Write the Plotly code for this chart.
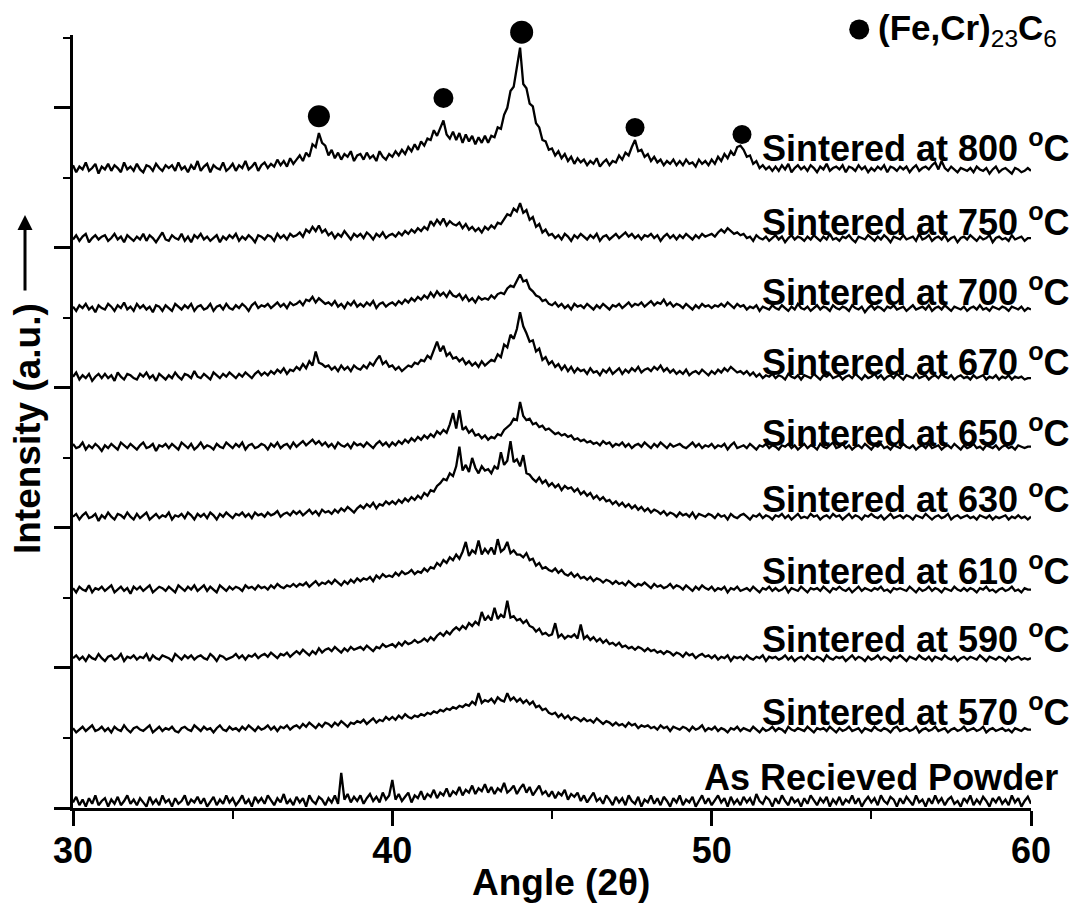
import numpy as np
import plotly.graph_objects as go

# ---------------- data (intensity in a.u., 100 a.u. = one major y tick) ----------------
# each series is sampled every 0.1 deg from 30.0 to 60.0 (one row = one degree)
two_theta_start, two_theta_end = 30, 60

s800 = [2, -3, 1, -1, 4, -2, 0, 3, -4, 1,
        -1, 3, -2, 2, 0, -3, 4, -1, 1, -2,
        3, -1, -3, 2, 1, -2, 3, 0, -2, 2,
        0, 2, -2, 4, -1, 1, -3, 2, -1, 5,
        -2, 1, 3, -3, 2, 0, -1, 4, -2, 0,
        3, -2, 2, 0, 5, -1, 1, 4, -2, 2,
        4, 0, 3, 1, 6, 2, 5, 1, 7, 3,
        6, 9, 5, 11, 8, 17, 15, 25, 18, 16,
        9, 13, 7, 11, 6, 10, 8, 12, 5, 9,
        10, 6, 11, 7, 9, 5, 12, 8, 6, 10,
        8, 12, 9, 13, 10, 15, 12, 17, 13, 19,
        16, 21, 20, 27, 23, 28, 34, 24, 21, 26,
        20, 25, 18, 24, 19, 23, 17, 22, 18, 23,
        18, 23, 22, 29, 28, 38, 43, 55, 58, 72,
        86, 60, 57, 46, 44, 32, 29, 20, 19, 13,
        14, 9, 12, 7, 10, 5, 8, 3, 7, 4,
        6, 2, 5, 3, 7, 1, 4, 6, 2, 5,
        4, 9, 6, 11, 9, 15, 20, 12, 13, 8,
        10, 5, 8, 4, 6, 2, 5, 3, 6, 2,
        5, 2, 6, 3, 4, 1, 6, 3, 5, 2,
        6, 3, 8, 5, 10, 7, 12, 9, 15, 16,
        13, 8, 9, 3, 5, 0, 2, -1, 1, -2,
        1, -2, 2, -1, 3, -3, 0, 2, -1, 1,
        -2, 2, 0, -3, 1, -1, 3, -2, 0, 1,
        -1, 2, -3, 1, 0, -2, 2, -1, 1, -3,
        0, -2, 1, -1, 2, -3, 1, 0, -2, 1,
        -1, 1, -3, 0, 2, -2, 0, 1, -1, 2,
        4, -1, 5, 0, -2, 1, -1, -3, 0, -1,
        -2, 0, -3, 1, -1, -2, 0, -4, -1, 1,
        -3, -1, 0, -2, -4, 0, -1, -3, -2, 0,
        -2]
s750 = [-1, 2, -2, 1, 3, -3, 0, 2, -1, 1,
        2, -2, 0, 3, -1, 1, -3, 2, 0, -2,
        1, -1, 3, -2, 2, 0, -3, 1, 4, -1,
        -2, 2, 0, -1, 3, -2, 1, -3, 2, 0,
        3, -1, 1, -2, 0, 2, -3, 1, -1, 2,
        0, 3, -2, 1, -1, 2, 0, -3, 2, 1,
        -1, 2, 1, -2, 3, 0, 2, -1, 3, 1,
        2, 4, 1, 6, 4, 8, 5, 9, 4, 6,
        2, 4, 0, 3, 1, 5, 2, -1, 3, 1,
        3, 0, 4, 2, -1, 3, 1, 4, 0, 2,
        3, 1, 4, 2, 5, 3, 6, 4, 7, 5,
        8, 6, 12, 9, 13, 10, 14, 9, 12, 10,
        9, 11, 7, 10, 6, 8, 5, 7, 4, 8,
        6, 9, 7, 11, 10, 14, 17, 16, 21, 19,
        25, 18, 20, 13, 15, 8, 10, 4, 6, 2,
        3, 0, 2, -1, 3, 1, -2, 2, 0, 3,
        1, -1, 2, 0, 3, -2, 1, 2, -1, 1,
        3, 0, 2, 4, 1, 3, 0, 2, -1, 2,
        1, 3, 0, 2, -2, 1, 3, 0, 2, -1,
        2, 0, 3, 1, -1, 2, 0, 3, 1, 2,
        3, 1, 4, 6, 4, 7, 5, 3, 4, 2,
        3, 0, 1, -2, 2, 0, -1, 1, -2, 0,
        2, -1, 1, -3, 0, 2, -1, 1, 0, -2,
        1, -1, 2, 0, -2, 1, -1, 3, -1, 0,
        -2, 1, 0, 2, -1, -3, 1, 0, -1, 2,
        0, -2, 1, -1, 2, 0, -3, 1, 0, -1,
        2, -1, 0, 1, -2, 3, -1, 0, 2, -2,
        0, 1, -1, 2, -2, 0, 1, -3, 0, 1,
        -1, 2, 0, -2, 1, -1, 0, 2, -3, 0,
        1, -1, 0, -2, 2, -1, 0, 1, -2, 0,
        0]
s700 = [1, -2, 2, 0, 3, -1, 1, -3, 2, 0,
        -1, 3, 1, -2, 2, 0, 4, -1, 1, -2,
        3, 0, 2, -1, 1, -3, 2, 1, -2, 2,
        0, -2, 3, 1, -1, 2, 0, 3, -2, 1,
        2, -1, 0, 3, -2, 1, 2, -1, 3, 0,
        -1, 2, 0, 3, 1, -2, 2, 4, 0, 2,
        1, 3, 0, 2, 4, 1, 3, 0, 4, 2,
        3, 5, 2, 6, 5, 8, 4, 7, 5, 3,
        4, 2, 5, 1, 3, 0, 4, 2, 5, 1,
        3, 1, 4, 2, 5, 0, 3, 4, 1, 3,
        4, 2, 5, 3, 6, 4, 7, 5, 8, 6,
        9, 7, 11, 8, 12, 9, 11, 8, 12, 9,
        8, 10, 6, 9, 5, 7, 4, 8, 6, 7,
        6, 9, 7, 10, 11, 10, 14, 16, 15, 20,
        24, 19, 20, 14, 12, 9, 8, 5, 6, 3,
        2, 4, 1, 3, 0, 2, -1, 3, 1, 2,
        0, 3, 1, -1, 2, 0, 3, 1, -1, 2,
        1, 3, 0, 2, 4, 1, 3, 2, 4, 1,
        3, 5, 2, 4, 3, 6, 2, 4, 1, 3,
        2, 0, 3, 1, -1, 2, 0, 3, 1, 2,
        0, 2, 1, 3, 1, 4, 2, 0, 3, 1,
        2, -1, 1, 0, 2, -2, 1, 0, -1, 2,
        0, -1, 2, 0, -2, 1, -1, 3, 0, -1,
        1, -2, 0, 2, -1, 1, 0, -2, 2, 0,
        -1, 1, 0, -2, 2, 0, -1, 1, -3, 0,
        2, -1, 1, 0, -2, 1, 0, 2, -1, 0,
        1, -2, 0, 2, -1, 0, 1, -1, 2, -2,
        0, 1, -1, 2, 0, -2, 1, 0, -1, 1,
        -2, 0, 1, -1, 2, -1, 0, -2, 1, 0,
        -1, 1, 0, -2, 1, 0, -1, 1, -2, 0,
        -1]
s670 = [0, 3, -2, 1, -1, 2, -3, 0, 2, -1,
        2, -1, 1, -3, 3, 0, -2, 2, 1, -1,
        -2, 2, 0, 3, -1, 1, -3, 2, 0, -2,
        1, -1, 3, 0, -2, 2, 1, -1, 4, 0,
        -1, 2, 0, -2, 3, 1, -1, 2, 0, 3,
        1, -1, 2, 0, 3, 1, -1, 2, 4, 1,
        3, 1, 4, 2, 5, 3, 6, 2, 5, 4,
        7, 5, 9, 6, 11, 8, 18, 10, 9, 7,
        8, 5, 7, 4, 8, 5, 7, 4, 8, 6,
        5, 8, 6, 10, 8, 12, 15, 9, 11, 7,
        8, 5, 7, 4, 6, 8, 7, 10, 9, 12,
        11, 15, 13, 19, 25, 18, 22, 15, 17, 13,
        14, 11, 13, 9, 11, 8, 10, 7, 11, 8,
        10, 12, 11, 16, 14, 23, 21, 30, 27, 34,
        46, 36, 31, 25, 26, 18, 20, 12, 14, 9,
        11, 7, 9, 5, 8, 4, 7, 3, 6, 4,
        5, 2, 6, 3, 4, 1, 5, 3, 6, 2,
        4, 6, 2, 5, 3, 6, 4, 7, 3, 5,
        6, 4, 7, 5, 8, 4, 6, 3, 5, 2,
        4, 2, 5, 1, 3, 4, 2, 5, 3, 1,
        4, 2, 5, 3, 6, 4, 7, 5, 3, 4,
        2, 4, 1, 3, 0, 2, -1, 1, 0, 2,
        -1, 1, 0, -2, 2, 0, -1, 1, -2, 1,
        0, -1, 2, 0, -2, 1, 0, 2, -1, 0,
        1, -2, 0, 1, -1, 2, 0, -2, 1, -1,
        0, 2, -1, 1, -2, 0, 1, -1, 2, 0,
        -2, 1, 0, -1, 2, -1, 0, 1, -2, 0,
        1, -1, 2, 0, -1, 1, -2, 0, 1, -1,
        0, -2, 1, -1, 0, 1, -2, 0, -1, 1,
        -2, 0, -1, 1, -2, 0, -1, 0, -2, -1,
        -1]
s650 = [2, -1, 0, 3, -2, 1, -1, 2, 0, -3,
        1, -1, 2, 0, -2, 3, 1, -1, 2, 0,
        -2, 1, 3, -1, 0, 2, -3, 1, 0, 2,
        -1, 2, 0, -2, 3, 1, -1, 2, -2, 0,
        3, -1, 1, 0, -2, 2, 0, -1, 3, 1,
        -1, 2, 0, 3, -2, 1, 2, -1, 0, 2,
        1, -2, 2, 0, 3, -1, 1, 2, -1, 3,
        0, 2, 4, 1, 3, 5, 2, 4, 1, 3,
        0, 2, -1, 3, 1, 0, 2, -1, 3, 1,
        2, 0, 3, 1, -1, 2, 4, 1, 3, 0,
        3, 1, 4, 2, 5, 3, 6, 4, 7, 5,
        8, 6, 9, 7, 11, 9, 12, 10, 16, 24,
        13, 26, 12, 14, 10, 12, 8, 9, 6, 8,
        5, 7, 6, 9, 8, 12, 14, 16, 20, 19,
        32, 22, 19, 20, 16, 17, 14, 15, 12, 13,
        11, 9, 10, 8, 9, 7, 8, 5, 6, 4,
        5, 3, 4, 2, 3, 1, 4, 2, 3, 0,
        2, 1, 3, 0, 2, -1, 1, 2, 0, 3,
        1, -1, 2, 0, 3, 1, -1, 2, 0, 1,
        2, 0, -1, 1, 3, 0, 2, -1, 1, 0,
        2, -1, 1, 0, 2, -2, 1, 3, -1, 0,
        1, -1, 2, 0, -2, 1, 0, 2, -1, 1,
        0, -2, 1, 0, 2, -1, 1, -2, 0, 2,
        -1, 1, 0, -2, 2, 0, -1, 1, 3, -1,
        0, 2, -1, 1, -2, 0, 1, -1, 2, 0,
        -2, 1, 0, 2, -1, 0, -2, 1, 0, -1,
        2, 0, -1, 1, -2, 0, 1, -1, 2, -1,
        0, 1, -2, 0, 1, -1, 2, 0, -2, 1,
        -1, 0, 2, -1, 0, -2, 1, 0, -1, 1,
        -2, 0, 1, -1, 0, -2, 1, 0, -1, 0,
        0]
s630 = [0, 2, -2, 1, 3, -1, 0, 2, -3, 1,
        -1, 3, 0, -2, 2, 1, -1, 3, 0, -2,
        2, -1, 1, 3, -2, 0, 2, -1, 1, 0,
        3, -2, 1, 0, 2, -1, 3, 1, -2, 2,
        0, 2, -1, 3, 1, -2, 2, 0, 3, 1,
        -1, 2, 1, 3, 0, 2, -1, 3, 1, 2,
        0, 3, 1, 2, 4, 0, 2, 3, 1, 4,
        2, 4, 1, 3, 5, 2, 4, 1, 5, 3,
        4, 2, 5, 3, 6, 4, 7, 5, 3, 6,
        8, 6, 9, 7, 10, 6, 9, 8, 11, 9,
        11, 9, 12, 10, 13, 11, 14, 12, 15, 13,
        17, 15, 19, 18, 22, 24, 27, 26, 31, 29,
        36, 50, 33, 37, 32, 42, 35, 31, 36, 33,
        34, 31, 36, 34, 46, 37, 40, 54, 39, 41,
        36, 44, 31, 30, 27, 25, 28, 24, 26, 22,
        24, 21, 23, 19, 22, 20, 21, 18, 20, 16,
        18, 15, 17, 13, 15, 12, 14, 11, 12, 9,
        11, 8, 10, 7, 9, 6, 8, 5, 7, 4,
        6, 3, 5, 4, 2, 4, 1, 3, 2, 0,
        3, 1, 2, 0, 3, -1, 2, 1, 0, 2,
        1, -1, 2, 0, 1, -2, 2, 0, -1, 1,
        2, 0, -2, 1, 0, 2, -1, 1, 0, -2,
        1, 0, 2, -1, 1, -2, 0, 2, -1, 0,
        -1, 2, 0, 1, -2, 0, 1, -1, 2, 0,
        1, -2, 0, 2, -1, 1, 0, -2, 1, 0,
        2, 0, -1, 1, -2, 0, 2, -1, 0, 1,
        -1, 1, 0, -2, 1, 0, -1, 2, 0, -2,
        0, 1, -1, 0, 2, -2, 0, 1, -1, 0,
        1, -1, 0, -2, 1, 0, -1, 1, -2, 0,
        -1, 0, 1, -2, 0, -1, 1, -1, 0, -2,
        0]
s610 = [1, -2, 2, 0, -1, 3, -2, 1, 0, 2,
        -1, 1, 3, -2, 0, 2, -1, 1, -3, 2,
        0, 2, -1, 1, 3, -2, 0, 2, 1, -1,
        2, 0, -2, 3, 1, -1, 2, 0, 3, -1,
        1, 3, -1, 2, 0, -2, 3, 1, -1, 2,
        0, 2, 1, -1, 3, 1, 2, 0, 3, 1,
        2, 0, 3, 1, 4, 2, 1, 3, 2, 4,
        2, 4, 3, 5, 2, 4, 6, 3, 5, 4,
        6, 4, 7, 5, 3, 6, 4, 7, 5, 8,
        6, 8, 7, 9, 6, 10, 8, 11, 9, 10,
        9, 12, 10, 13, 11, 12, 14, 11, 13, 12,
        15, 13, 16, 15, 19, 17, 21, 19, 23, 21,
        25, 22, 27, 34, 24, 28, 26, 35, 25, 29,
        26, 30, 25, 36, 27, 29, 34, 26, 28, 25,
        25, 23, 26, 21, 22, 17, 19, 15, 16, 14,
        13, 15, 12, 14, 11, 10, 12, 9, 11, 8,
        9, 7, 9, 6, 8, 7, 5, 7, 6, 4,
        6, 4, 5, 3, 6, 4, 2, 4, 3, 5,
        3, 1, 4, 2, 3, 1, 2, 4, 1, 3,
        2, 0, 3, 1, -1, 2, 0, 3, 1, 0,
        2, -1, 1, 0, 2, -2, 1, 0, 2, -1,
        0, 1, -1, 2, 0, -2, 1, 0, 2, -1,
        1, -1, 0, 2, -2, 1, 0, -1, 2, 0,
        -2, 1, 0, 1, -1, 2, 0, -2, 1, 0,
        2, 0, -1, 1, -2, 0, 2, -1, 1, 0,
        -1, 1, 0, 2, -1, 0, -2, 1, 0, 1,
        0, -1, 2, 0, -2, 1, -1, 0, 2, -1,
        1, 0, -2, 1, 0, -1, 2, 0, -1, 1,
        -1, 1, 0, -2, 1, 0, 2, -1, 0, -2,
        0, 1, -1, 0, 2, -1, 0, -2, 1, 0,
        0]
s590 = [0, 2, -1, 1, -2, 2, 0, -1, 3, 0,
        -2, 1, 2, -1, 0, 3, -2, 1, 0, 2,
        -1, 1, 0, 3, -2, 2, 0, -1, 2, 1,
        0, -2, 3, 1, -1, 2, 0, 2, -1, 1,
        2, 0, -1, 3, 1, -2, 2, 1, -1, 0,
        1, 3, 0, 2, -1, 2, 1, 3, 0, 2,
        3, 1, 4, 2, 0, 3, 2, 4, 1, 3,
        5, 3, 6, 4, 2, 5, 3, 7, 4, 6,
        7, 5, 8, 6, 4, 7, 5, 8, 6, 7,
        8, 6, 9, 7, 5, 8, 7, 10, 8, 9,
        10, 8, 11, 9, 12, 10, 11, 13, 11, 12,
        14, 12, 15, 13, 16, 18, 16, 19, 17, 20,
        22, 20, 23, 21, 25, 23, 26, 24, 33, 27,
        30, 27, 36, 28, 31, 29, 41, 29, 30, 27,
        28, 25, 27, 23, 22, 19, 21, 17, 18, 16,
        17, 25, 15, 17, 14, 16, 15, 17, 14, 24,
        14, 16, 13, 15, 12, 14, 11, 13, 10, 11,
        9, 11, 8, 9, 7, 8, 6, 8, 7, 5,
        7, 5, 6, 4, 5, 3, 5, 4, 2, 4,
        3, 1, 4, 2, 3, 0, 2, 3, 1, 2,
        0, 2, -1, 1, 0, 2, -2, 1, 0, 1,
        -1, 2, 0, -1, 1, 0, 2, -2, 1, 0,
        1, -1, 0, 2, -1, 1, -2, 0, 1, -1,
        2, 0, -1, 1, 0, -2, 2, 0, -1, 1,
        0, 1, -2, 0, 2, -1, 1, 0, -2, 1,
        -1, 0, 2, -1, 1, 0, -2, 1, 0, 2,
        0, -2, 1, 0, -1, 2, 0, -1, 1, -2,
        1, 0, -1, 2, 0, -1, 1, -2, 0, 1,
        -1, 1, 0, -1, 2, 0, -2, 1, 0, -1,
        1, 0, -2, 1, -1, 0, 1, -1, 0, -1,
        0]
s570 = [1, -2, 0, 2, -1, 1, 3, -1, 0, 2,
        -1, 1, -2, 2, 0, -1, 3, 0, -2, 1,
        2, 0, -1, 1, 3, -2, 0, 2, -1, 1,
        0, 2, -1, -2, 1, 2, 0, -1, 3, 1,
        -1, 2, 0, 1, -2, 1, 3, 0, -1, 2,
        0, 1, -1, 2, 0, 3, 1, -1, 2, 0,
        1, 3, 0, 2, -1, 2, 1, 3, 0, 2,
        3, 1, 4, 2, 5, 3, 1, 4, 2, 5,
        4, 2, 5, 3, 6, 4, 2, 5, 4, 6,
        5, 7, 4, 6, 8, 5, 7, 6, 9, 7,
        9, 7, 10, 8, 11, 9, 8, 10, 9, 11,
        10, 12, 11, 13, 12, 14, 13, 15, 14, 16,
        15, 17, 16, 18, 17, 20, 18, 26, 19, 21,
        20, 22, 19, 23, 21, 20, 26, 21, 23, 20,
        22, 19, 21, 18, 20, 16, 17, 14, 15, 12,
        11, 12, 9, 11, 8, 10, 7, 9, 8, 6,
        8, 6, 7, 5, 8, 6, 4, 6, 5, 3,
        5, 3, 4, 2, 5, 3, 4, 1, 3, 2,
        3, 1, 2, 0, 3, 1, 2, -1, 2, 1,
        0, 2, 1, -1, 2, 0, 1, 3, -1, 1,
        0, 2, -1, 1, 0, -2, 1, 0, 2, -1,
        1, 0, -1, 2, 0, -2, 1, -1, 0, 2,
        -1, 1, 0, -2, 2, 0, -1, 1, 0, -1,
        2, 0, -2, 1, 0, 1, -1, 2, 0, -2,
        1, -1, 0, 2, -1, 0, 1, -2, 1, 0,
        -1, 2, 0, -1, 1, 0, -2, 1, 2, -1,
        0, 1, -1, 0, 2, -2, 0, 1, -1, 0,
        2, -1, 0, 1, -2, 0, 1, -1, 0, 2,
        -1, 0, 1, -1, 0, 2, -2, 0, 1, -1,
        0, 1, -1, 0, -2, 1, 0, -1, 1, 0,
        0]
s_powder = [4, 8, 2, 6, 1, 7, 3, 9, 2, 5,
            7, 1, 6, 3, 8, 2, 5, 9, 3, 6,
            2, 7, 4, 1, 8, 3, 6, 2, 9, 4,
            6, 1, 7, 3, 5, 9, 2, 6, 4, 8,
            3, 7, 1, 5, 8, 2, 6, 3, 9, 4,
            7, 2, 5, 9, 3, 6, 1, 8, 4, 7,
            3, 9, 5, 2, 7, 4, 10, 3, 6, 2,
            8, 4, 7, 1, 9, 5, 3, 8, 6, 2,
            7, 4, 9, 3, 25, 6, 10, 4, 8, 5,
            9, 3, 7, 10, 5, 8, 4, 11, 6, 9,
            20, 6, 10, 5, 8, 11, 4, 9, 7, 12,
            6, 10, 8, 13, 7, 11, 9, 14, 8, 12,
            10, 15, 9, 13, 11, 16, 10, 14, 12, 17,
            11, 15, 10, 14, 12, 18, 11, 13, 16, 10,
            14, 17, 11, 15, 9, 13, 16, 10, 12, 8,
            12, 7, 11, 9, 13, 6, 10, 8, 11, 5,
            9, 4, 8, 11, 5, 7, 3, 9, 6, 2,
            8, 4, 7, 2, 9, 5, 3, 8, 1, 6,
            4, 9, 3, 7, 2, 8, 5, 1, 7, 4,
            9, 2, 6, 4, 8, 1, 5, 9, 3, 7,
            2, 6, 9, 4, 7, 1, 8, 3, 6, 2,
            8, 4, 7, 2, 10, 5, 3, 8, 6, 1,
            7, 3, 9, 5, 2, 8, 4, 6, 1, 7,
            3, 9, 5, 2, 7, 4, 8, 1, 6, 3,
            8, 2, 6, 4, 9, 3, 7, 1, 5, 8,
            4, 7, 2, 9, 5, 3, 8, 6, 1, 7,
            3, 8, 5, 2, 9, 4, 6, 1, 7, 3,
            9, 4, 7, 2, 6, 8, 3, 5, 1, 7,
            4, 9, 2, 6, 3, 8, 5, 1, 7, 4,
            8, 3, 6, 2, 9, 4, 7, 1, 5, 8,
            3]

series = [s_powder, s570, s590, s610, s630, s650, s670, s700, s750, s800]
stack_offsets = [0, 56, 107, 156, 208, 258, 308, 357, 407, 457]
series_labels = ["As Recieved Powder",
                 "Sintered at 570 <sup>o</sup>C", "Sintered at 590 <sup>o</sup>C",
                 "Sintered at 610 <sup>o</sup>C", "Sintered at 630 <sup>o</sup>C",
                 "Sintered at 650 <sup>o</sup>C", "Sintered at 670 <sup>o</sup>C",
                 "Sintered at 700 <sup>o</sup>C", "Sintered at 750 <sup>o</sup>C",
                 "Sintered at 800 <sup>o</sup>C"]
label_y = [22, 70, 122, 171, 222, 269, 320, 370, 420, 473]

carbide_peaks_x = [37.7, 41.6, 44.05, 47.6, 50.95]
carbide_peaks_y = [494, 507, 554, 486, 481]
legend_dot_x, legend_dot_y = 54.62, 556

# ---------------- figure ----------------
FONT = "Liberation Sans, Arial, sans-serif"
TOP, BOTTOM = 10, 99
PLOT_H = 907 - TOP - BOTTOM          # 798 px
AXIS_H = 773                          # visible y axis length in px
Y_MAX = 552
fig = go.Figure()

for vals, off in zip(series, stack_offsets):
    x = np.linspace(two_theta_start, two_theta_end, len(vals))
    y = np.array(vals) + off
    fig.add_trace(go.Scatter(x=x, y=y, mode="lines",
                             line=dict(color="black", width=2.3),
                             hoverinfo="skip", cliponaxis=False))

# markers live on a taller, invisible twin axis with identical scale so they can sit above the axis top
fig.add_trace(go.Scatter(x=carbide_peaks_x, y=carbide_peaks_y, mode="markers", yaxis="y2",
                         marker=dict(color="black", size=[22, 20, 23, 19, 19], opacity=1,
                                     line=dict(width=0)),
                         cliponaxis=False))
fig.add_trace(go.Scatter(x=[legend_dot_x], y=[legend_dot_y], mode="markers", yaxis="y2",
                         marker=dict(color="black", size=20, opacity=1, line=dict(width=0)),
                         cliponaxis=False))


def py(px):
    """pixel row -> paper y"""
    return (907 - BOTTOM - px) / PLOT_H


annotations = []
for txt, ly in zip(series_labels, label_y):
    xr = 1.030 if txt.startswith("As") else 1.043
    annotations.append(dict(text=txt, x=xr, xref="paper", y=ly, yref="y",
                            xanchor="right", yanchor="middle", showarrow=False,
                            font=dict(family=FONT, size=36, color="black", weight="bold")))

annotations.append(dict(text="(Fe,Cr)<sub><span style='font-weight:normal'>23</span></sub>C"
                             "<sub><span style='font-weight:normal'>6</span></sub>",
                        x=0.838, xref="paper", y=py(30), yref="paper",
                        xanchor="left", yanchor="middle", showarrow=False,
                        font=dict(family=FONT, size=35, color="black", weight="bold")))
annotations.append(dict(text="Angle (2θ)", x=0.509, xref="paper", y=py(882), yref="paper",
                        xanchor="center", yanchor="middle", showarrow=False,
                        font=dict(family=FONT, size=37, color="black", weight="bold")))
annotations.append(dict(text="Intensity (a.u.)", x=-0.048, xref="paper", y=py(429), yref="paper",
                        xanchor="center", yanchor="middle", textangle=-90, showarrow=False,
                        font=dict(family=FONT, size=37, color="black", weight="bold")))
annotations.append(dict(text="", x=-0.0501, xref="paper", y=py(215), yref="paper",
                        ax=0, ay=77, showarrow=True, arrowhead=2, arrowsize=1,
                        arrowwidth=3, arrowcolor="black"))

fig.update_layout(
    width=1074, height=907,
    margin=dict(l=73, r=43, t=TOP, b=BOTTOM),
    plot_bgcolor="rgba(0,0,0,0)", paper_bgcolor="white",
    showlegend=False,
    font=dict(family=FONT, color="black"),
    annotations=annotations,
    xaxis=dict(range=[30, 60], tick0=30, dtick=10, ticks="outside", ticklen=15, tickwidth=3,
               tickcolor="black", showline=True, linewidth=3, linecolor="black",
               showgrid=False, zeroline=False, ticklabelstandoff=-6,
               tickfont=dict(family=FONT, size=36, color="black", weight="bold"),
               minor=dict(dtick=5, tick0=30, ticks="outside", ticklen=8, tickwidth=2,
                          tickcolor="black", showgrid=False)),
    yaxis=dict(domain=[0, AXIS_H / PLOT_H], range=[0, Y_MAX], tick0=0, dtick=100,
               ticks="outside", ticklen=16, tickwidth=3,
               tickcolor="black", showline=True, linewidth=3, linecolor="black",
               showgrid=False, zeroline=False, showticklabels=False,
               minor=dict(dtick=50, tick0=0, ticks="outside", ticklen=7, tickwidth=2,
                          tickcolor="black", showgrid=False)),
    yaxis2=dict(domain=[0, 1], range=[0, Y_MAX * PLOT_H / AXIS_H], anchor="x",
                visible=False, showgrid=False, zeroline=False),
)

fig.write_html("out.html")
